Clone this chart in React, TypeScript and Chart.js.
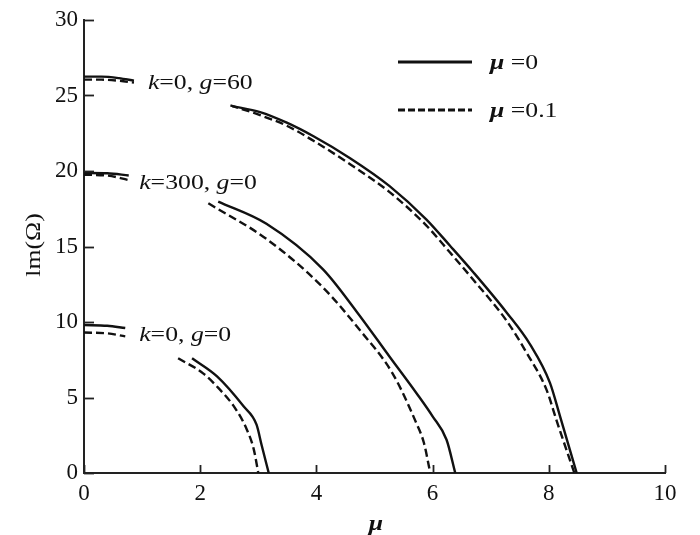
import { useEffect, useRef } from "react";
import { Chart, registerables } from "chart.js";

Chart.register(...registerables);

const FONT = '"Liberation Serif", "Times New Roman", serif';
const INK = "#111111";

// axis ticks
const xTickValues = [0, 2, 4, 6, 8, 10];
const yTickValues = [0, 5, 10, 15, 20, 25, 30];

// k=0, g=60 — μ=0 (solid)
const upperSolidAx = [0, 0.3, 0.6, 0.86];
const upperSolidAy = [26.25, 26.25, 26.15, 25.98];
const upperSolidBx = [2.55, 3.03, 3.49, 3.95, 4.58, 5.26, 5.89, 6.3, 6.7, 7.28, 7.68, 8.02, 8.19, 8.48];
const upperSolidBy = [24.3, 23.9, 23.2, 22.3, 20.85, 19.0, 16.8, 15.05, 13.3, 10.6, 8.5, 5.97, 3.8, 0];
// k=0, g=60 — μ=0.1 (dashed)
const upperDashAx = [0, 0.3, 0.6, 0.86];
const upperDashAy = [26.05, 26.05, 25.98, 25.85];
const upperDashBx = [2.52, 3.03, 3.49, 3.95, 4.58, 5.26, 5.89, 6.3, 6.7, 7.28, 7.62, 7.96, 8.14, 8.44];
const upperDashBy = [24.35, 23.7, 23.0, 22.0, 20.45, 18.6, 16.4, 14.6, 12.8, 10.05, 7.95, 5.52, 3.4, 0];

// k=300, g=0 — μ=0 (solid)
const midSolidAx = [0, 0.4, 0.77];
const midSolidAy = [19.87, 19.85, 19.7];
const midSolidBx = [2.31, 3.14, 4.11, 4.69, 5.26, 5.72, 6.0, 6.24, 6.39];
const midSolidBy = [17.97, 16.5, 13.5, 10.7, 7.7, 5.3, 3.75, 2.2, 0];
// k=300, g=0 — μ=0.1 (dashed)
const midDashAx = [0, 0.4, 0.77];
const midDashAy = [19.75, 19.7, 19.4];
const midDashBx = [2.14, 3.14, 4.11, 4.74, 5.31, 5.72, 5.85, 5.96];
const midDashBy = [17.86, 15.5, 12.3, 9.5, 6.6, 3.3, 2.0, 0];

// k=0, g=0 — μ=0 (solid)
const lowSolidAx = [0, 0.4, 0.71];
const lowSolidAy = [9.8, 9.75, 9.6];
const lowSolidBx = [1.86, 2.29, 2.75, 2.97, 3.06, 3.18];
const lowSolidBy = [7.6, 6.4, 4.4, 3.2, 1.8, 0];
// k=0, g=0 — μ=0.1 (dashed)
const lowDashAx = [0, 0.4, 0.71];
const lowDashAy = [9.3, 9.25, 9.05];
const lowDashBx = [1.62, 2.05, 2.32, 2.6, 2.8, 2.92, 3.0];
const lowDashBy = [7.6, 6.6, 5.6, 4.3, 2.9, 1.6, 0];

// curve labels
const curveLabels = [
  { parts: [["k", true], ["=0, ", false], ["g", true], ["=60", false]], x: 1.1, y: 25.4 },
  { parts: [["k", true], ["=300, ", false], ["g", true], ["=0", false]], x: 0.95, y: 18.8 },
  { parts: [["k", true], ["=0, ", false], ["g", true], ["=0", false]], x: 0.95, y: 8.75 },
];

const legendItems = [
  { label: "=0", dash: [] as number[] },
  { label: "=0.1", dash: [7, 3] },
];

const STRETCH = 1.17;

function pts(xs: number[], ys: number[]) {
  return xs.map((x, i) => ({ x, y: ys[i] }));
}

function mk(xs: number[], ys: number[], dashed: boolean) {
  return {
    data: pts(xs, ys),
    borderColor: INK,
    borderWidth: 2.4,
    borderDash: dashed ? [8, 4] : [],
    pointRadius: 0,
    showLine: true,
    fill: false,
    cubicInterpolationMode: "monotone",
  };
}

function drawParts(ctx: CanvasRenderingContext2D, parts: any[], x: number, y: number, size: number) {
  ctx.save();
  ctx.translate(x, y);
  ctx.scale(STRETCH, 1);
  let cx = 0;
  ctx.textBaseline = "alphabetic";
  ctx.textAlign = "left";
  for (const [t, it, bold] of parts) {
    ctx.font = `${it ? "italic " : ""}${bold ? "bold " : ""}${size}px ${FONT}`;
    ctx.fillText(t, cx, 0);
    cx += ctx.measureText(t).width;
  }
  ctx.restore();
}

const decorPlugin = {
  id: "decor",
  afterDraw(chart: any) {
    const ctx: CanvasRenderingContext2D = chart.ctx;
    const xs = chart.scales.x;
    const ys = chart.scales.y;
    const area = chart.chartArea;
    ctx.save();
    ctx.strokeStyle = "#222";
    ctx.lineWidth = 1.8;
    // inward ticks
    for (const v of yTickValues) {
      const py = Math.round(ys.getPixelForValue(v)) + 0.5;
      ctx.beginPath();
      ctx.moveTo(area.left, py);
      ctx.lineTo(area.left + 10, py);
      ctx.stroke();
    }
    for (const v of xTickValues) {
      const px = Math.round(xs.getPixelForValue(v)) + 0.5;
      ctx.beginPath();
      ctx.moveTo(px, area.bottom);
      ctx.lineTo(px, area.bottom - 8);
      ctx.stroke();
    }
    ctx.fillStyle = INK;
    // curve labels
    for (const l of curveLabels) {
      drawParts(ctx, l.parts, xs.getPixelForValue(l.x), ys.getPixelForValue(l.y), 22);
    }
    // legend
    legendItems.forEach((it, i) => {
      const y = 62 + i * 48;
      ctx.save();
      ctx.strokeStyle = INK;
      ctx.lineWidth = 3;
      ctx.setLineDash(it.dash);
      ctx.beginPath();
      ctx.moveTo(398, y);
      ctx.lineTo(472, y);
      ctx.stroke();
      ctx.restore();
      drawParts(ctx, [["μ", true, true], [" " + it.label, false, false]], 490, y + 7, 22);
    });
    // axis titles
    ctx.save();
    ctx.translate(40, 245);
    ctx.rotate(-Math.PI / 2);
    ctx.scale(STRETCH, 1);
    ctx.font = `22px ${FONT}`;
    ctx.textAlign = "center";
    ctx.textBaseline = "alphabetic";
    ctx.fillText("lm(Ω)", 0, 0);
    ctx.restore();
    ctx.save();
    ctx.translate(376, 530);
    ctx.scale(STRETCH, 1);
    ctx.font = `italic bold 22px ${FONT}`;
    ctx.textAlign = "center";
    ctx.textBaseline = "alphabetic";
    ctx.fillText("μ", 0, 0);
    ctx.restore();
    ctx.restore();
  },
};

export default function App() {
  const ref = useRef<HTMLCanvasElement | null>(null);
  useEffect(() => {
    if (!ref.current) return;
    const chart = new Chart(ref.current, {
      type: "scatter",
      data: {
        datasets: [
          mk(upperSolidAx, upperSolidAy, false),
          mk(upperSolidBx, upperSolidBy, false),
          mk(upperDashAx, upperDashAy, true),
          mk(upperDashBx, upperDashBy, true),
          mk(midSolidAx, midSolidAy, false),
          mk(midSolidBx, midSolidBy, false),
          mk(midDashAx, midDashAy, true),
          mk(midDashBx, midDashBy, true),
          mk(lowSolidAx, lowSolidAy, false),
          mk(lowSolidBx, lowSolidBy, false),
          mk(lowDashAx, lowDashAy, true),
          mk(lowDashBx, lowDashBy, true),
        ] as any,
      },
      options: {
        responsive: false,
        animation: false,
        layout: { padding: { left: 0, top: 20, right: 35, bottom: 0 } },
        plugins: { legend: { display: false }, tooltip: { enabled: false } },
        scales: {
          x: {
            type: "linear",
            min: 0,
            max: 10,
            afterFit: (s: any) => {
              s.height = 62;
            },
            afterBuildTicks: (s: any) => {
              s.ticks = xTickValues.map((v) => ({ value: v }));
            },
            ticks: { color: INK, font: { family: FONT, size: 23 }, padding: 7, maxRotation: 0 },
            grid: { display: false, drawTicks: false },
            border: { display: true, color: "#222", width: 2 },
          },
          y: {
            type: "linear",
            min: 0,
            max: 30,
            afterFit: (s: any) => {
              s.width = 84;
            },
            afterBuildTicks: (s: any) => {
              s.ticks = yTickValues.map((v) => ({ value: v }));
            },
            ticks: { color: INK, font: { family: FONT, size: 23 }, padding: 6 },
            grid: { display: false, drawTicks: false },
            border: { display: true, color: "#222", width: 2 },
          },
        },
      } as any,
      plugins: [decorPlugin],
    });
    return () => chart.destroy();
  }, []);
  return (
    <div style={{ position: "absolute", left: 0, top: 0, width: 700, height: 535, background: "#fff" }}>
      <canvas ref={ref} width={700} height={535} style={{ display: "block" }} />
    </div>
  );
}
